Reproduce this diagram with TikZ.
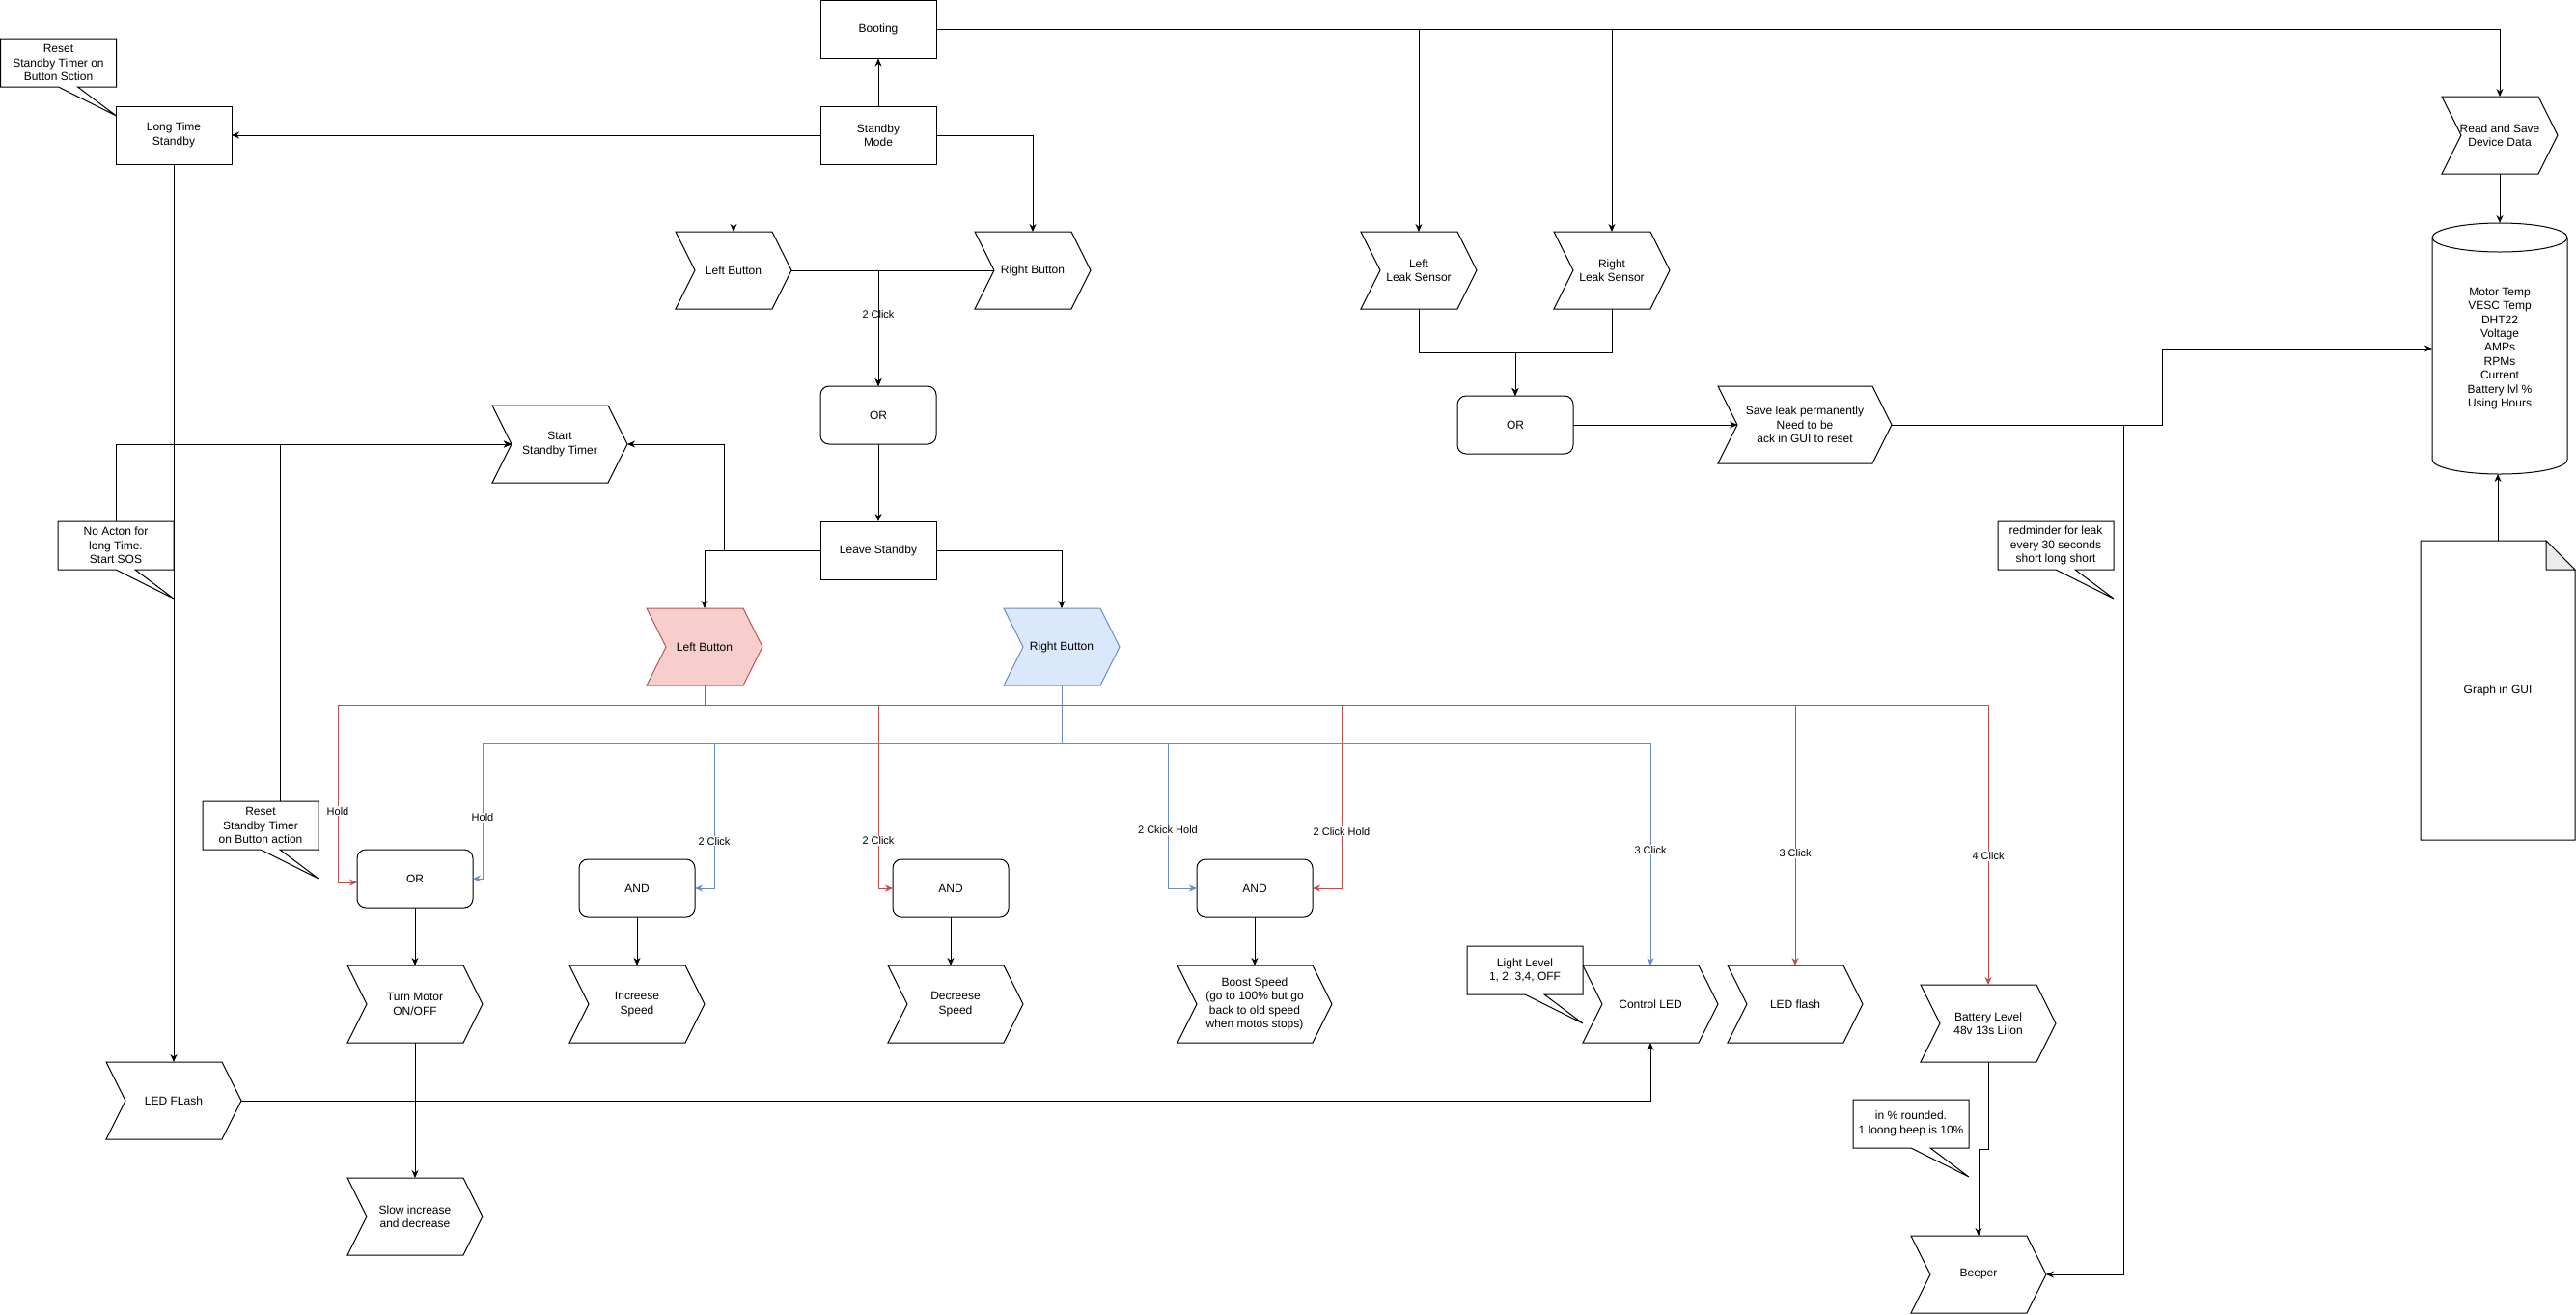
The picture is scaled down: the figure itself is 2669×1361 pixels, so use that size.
\documentclass[tikz,border=0pt]{standalone}
\usepackage{fontspec}
\setmainfont{Liberation Sans}
\usepackage{xcolor}
\usetikzlibrary{arrows.meta, positioning, backgrounds, calc}

\definecolor{redln}{HTML}{B85450}
\definecolor{redbg}{HTML}{F8CECC}
\definecolor{blueln}{HTML}{6C8EBF}
\definecolor{bluebg}{HTML}{DAE8FC}

\begin{document}
\begin{tikzpicture}[
  x=1pt, y=-1pt, line width=1pt,
  font=\fontsize{12}{14.4}\selectfont,
  base/.style      = {minimum width=120pt, minimum height=60pt, inner sep=2pt,
                      outer sep=0pt, align=center},
  box/.style       = {base, draw},
  gate/.style      = {box, rounded corners=9pt},
  stepnode/.style  = {base, minimum height=80pt, minimum width=#1},
  stepnode/.default= 120pt,
  note/.style      = {base, minimum height=50pt, fill=white},
  arr/.style       = {-{Stealth[length=8pt,width=7pt]}},
  rarr/.style      = {arr, draw=redln},
  barr/.style      = {arr, draw=blueln},
  lbl/.style       = {font=\fontsize{11}{13}\selectfont, fill=white,
                      inner sep=1pt, text=black},
]
\useasboundingbox (0,0) rectangle (2669,1361);

% standby part
\node[box]  (boot)  at (910,30.5) {Booting};
\node[box]  (stby)  at (910,140)  {Standby\\Mode};
\node[box]  (lts)   at (180,140)  {Long Time\\Standby};
\node[note] (cRst)  at (60.5,65)  {Reset\\Standby Timer on\\Button Sction};
\node[stepnode] (lbtn1) at (760,280)  {Left Button};
\node[stepnode] (rbtn1) at (1070,280) {Right Button};
\node[gate] (or1)   at (910,430)  {OR};
\node[box]  (leave) at (910,570)  {Leave Standby};
\node[stepnode=140pt] (timer) at (580,460) {Start\\Standby Timer};
\node[stepnode] (lbtn2) at (730,670)  {Left Button};
\node[stepnode] (rbtn2) at (1100,670) {Right Button};
\node[note] (cSos)  at (120,565)  {No Acton for\\long Time.\\Start SOS};
\node[note] (cRst2) at (270,855)  {Reset\\Standby Timer\\on Button action};

% button actions
\node[gate] (orB)  at (430,910)  {OR};
\node[gate] (and1) at (660,920)  {AND};
\node[gate] (and2) at (985,920)  {AND};
\node[gate] (and3) at (1300,920) {AND};
\node[stepnode=140pt] (motor) at (430,1040)  {Turn Motor\\ON/OFF};
\node[stepnode=140pt] (inc)   at (660,1040)  {Increese\\Speed};
\node[stepnode=140pt] (dec)   at (990,1040)  {Decreese\\Speed};
\node[stepnode=160pt] (boost) at (1300,1040) {Boost Speed\\(go to 100\% but go\\back to old speed\\when motos stops)};
\node[stepnode=140pt] (ctl)   at (1710,1040) {Control LED};
\node[note] (cLight) at (1580,1005) {Light Level\\1, 2, 3,4, OFF};
\node[stepnode=140pt] (flashled) at (1860,1040) {LED flash};
\node[stepnode=140pt] (batt)  at (2060,1060) {Battery Level\\48v 13s LiIon};
\node[stepnode=140pt] (sosled) at (180,1140) {LED FLash};
\node[stepnode=140pt] (slow)  at (430,1260)  {Slow increase\\and decrease};
\node[note] (cPct)  at (1980,1164) {in \% rounded.\\1 loong beep is 10\%};
\node[stepnode=140pt] (beep)  at (2050,1320) {Beeper};

% leak sensors and data
\node[stepnode] (lls) at (1470,280) {Left\\Leak Sensor};
\node[stepnode] (rls) at (1670,280) {Right\\Leak Sensor};
\node[gate] (or2) at (1570,440) {OR};
\node[stepnode=180pt] (leak) at (1870,440) {Save leak permanently\\Need to be\\ack in GUI to reset};
\node[note] (cRem) at (2130,565) {redminder for leak\\every 30 seconds\\short long short};
\node[stepnode] (rsave) at (2590,140) {Read and Save\\Device Data};
\node[base, minimum width=140pt, minimum height=260pt] (store) at (2590,361)
     {Motor Temp\\VESC Temp\\DHT22\\Voltage\\AMPs\\RPMs\\Current\\Battery lvl \%\\Using Hours};
\node[base, minimum width=160pt, minimum height=310pt] (gui) at (2588,715) {Graph in GUI};

% step shapes
\begin{scope}[on background layer, line width=1pt]
  \foreach \n in {lbtn1, rbtn1, timer, motor, inc, dec, boost, ctl, flashled,
                  batt, sosled, slow, beep, lls, rls, leak, rsave}
    \filldraw[fill=white, line width=1pt] (\n.north west) -- ([xshift=-20pt]\n.north east) -- (\n.east)
      -- ([xshift=-20pt]\n.south east) -- (\n.south west) -- ([xshift=20pt]\n.west) -- cycle;
  \foreach \n/\dc/\fc in {lbtn2/redln/redbg, rbtn2/blueln/bluebg}
    \filldraw[draw=\dc, fill=\fc, line width=1pt] (\n.north west) -- ([xshift=-20pt]\n.north east) -- (\n.east)
      -- ([xshift=-20pt]\n.south east) -- (\n.south west) -- ([xshift=20pt]\n.west) -- cycle;
\end{scope}

% cylinder and document
\draw ([yshift=-15pt]store.north) ellipse [x radius=70pt, y radius=15pt];
\draw ([yshift=-15pt]store.north west) -- ([yshift=15pt]store.south west)
      arc [start angle=180, end angle=360, x radius=70pt, y radius=15pt]
      -- ([yshift=-15pt]store.north east);
\draw (gui.north west) -- ([xshift=-30pt]gui.north east) -- ([yshift=-30pt]gui.north east)
      -- (gui.south east) -- (gui.south west) -- cycle;
\filldraw[fill=gray!15] ([xshift=-30pt]gui.north east) -- ([xshift=-30pt,yshift=-30pt]gui.north east)
      -- ([yshift=-30pt]gui.north east) -- cycle;

% callouts
\foreach \c in {cRst, cSos, cRst2, cLight, cPct, cRem}
  \draw (\c.north west) -- (\c.north east) -- (\c.south east) -- ([xshift=-40pt]\c.south east)
    -- ([yshift=-30pt]\c.south east) -- ([xshift=-60pt]\c.south east) -- (\c.south west) -- cycle;

% standby flow
\draw[arr] (stby) -- (boot);
\draw[arr] (stby.west) -- (lts.east);
\draw[arr] (stby.west) -| (lbtn1.north);
\draw[arr] (stby.east) -| (rbtn1.north);
\draw[arr] (lbtn1.east) -| node[lbl, pos=0.69]{2 Click} (or1.north);
\draw[arr] ([xshift=20pt]rbtn1.west) -| (or1.north);
\draw[arr] (or1) -- (leave);
\draw[arr] (leave.east) -| (rbtn2.north);
\draw[arr] (leave.west) -| (lbtn2.north);
\draw[arr] (leave.west) -- ++(-100,0) |- (timer.east);
\draw[arr] (cSos.north) |- ([xshift=20pt]timer.west);
\draw[arr] ([xshift=20pt]cRst2.north) |- ([xshift=20pt]timer.west);
\draw[arr] (lts) -- (sosled);
\draw[arr] (sosled.east) -| (ctl.south);

% left button (red)
\draw[rarr] (lbtn2.south) -- ++(0,20) -| node[lbl, pos=0.8]{Hold}
      ([xshift=-20pt,yshift=-4pt]orB.west) -- ([yshift=-4pt]orB.west);
\draw[rarr] (lbtn2.south) -- ++(0,20) -| node[lbl, pos=0.87]{2 Click}
      ([xshift=-15pt]and2.west) -- (and2.west);
\draw[rarr] (lbtn2.south) -- ++(0,20) -| node[lbl, pos=0.845]{2 Click Hold}
      ([xshift=30pt]and3.east) -- (and3.east);
\draw[rarr] (lbtn2.south) -- ++(0,20) -| node[lbl, pos=0.785]{3 Click} (flashled.north);
\draw[rarr] (lbtn2.south) -- ++(0,20) -| node[lbl, pos=0.77]{4 Click} (batt.north);

% right button (blue)
\draw[barr] (rbtn2.south) -- ++(0,60) -| node[lbl, pos=0.775]{Hold}
      ([xshift=10pt]orB.east) -- (orB.east);
\draw[barr] (rbtn2.south) -- ++(0,60) -| node[lbl, pos=0.837]{2 Click}
      ([xshift=20pt]and1.east) -- (and1.east);
\draw[barr] (rbtn2.south) -- ++(0,60) -| node[lbl, pos=0.8]{2 Ckick Hold}
      ([xshift=-30pt]and3.west) -- (and3.west);
\draw[barr] (rbtn2.south) -- ++(0,60) -| node[lbl, pos=0.74]{3 Click} (ctl.north);

\draw[arr] (orB) -- (motor);
\draw[arr] (motor) -- (slow);
\draw[arr] (and1) -- (inc);
\draw[arr] (and2.south) -- (and2.south |- dec.north);
\draw[arr] (and3) -- (boost);

% leak and data
\draw[arr] (boot.east) -| (lls.north);
\draw[arr] (boot.east) -| (rls.north);
\draw[arr] (boot.east) -| (rsave.north);
\draw[arr] (lls.south) -- ++(0,45) -| (or2.north);
\draw[arr] (rls.south) -- ++(0,45) -| (or2.north);
\draw[arr] (or2.east) -- ([xshift=20pt]leak.west);
\draw[arr] (leak.east) -- ++(280,0) |- (store.west);
\draw[arr] (leak.east) -- ++(240,0) |- (beep.east);
\draw[arr] (rsave) -- (store);
\draw[arr] (gui.north) -- (gui.north |- store.south);
\draw[arr] (batt.south) -- ++(0,90) -| (beep.north);

\end{tikzpicture}
\end{document}
